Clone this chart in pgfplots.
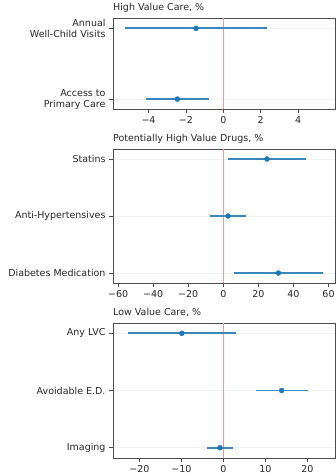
\documentclass[border=0pt]{standalone}
\usepackage{fontspec}
\setmainfont{DejaVu Sans}
\usepackage{pgfplots}
\pgfplotsset{compat=1.18}
\definecolor{tabblue}{RGB}{31,119,180}
\definecolor{refred}{RGB}{246,150,150}

\pgfplotsset{
  forest/.style={
    scale only axis, width=222bp,
    anchor=south west,
    axis line style={black!70, line width=0.6pt},
    tick style={black!70, line width=0.6pt},
    tick align=outside, major tick length=4bp,
    xtick pos=bottom, ytick pos=left,
    y dir=reverse, ytick={0,1,2},
    ymajorgrids, grid style={black!5, line width=0.8pt},
    font=\fontsize{9.5bp}{11bp}\selectfont,
    tick label style={text=black!85},
    yticklabel style={align=right},
    title style={at={(0,1)}, anchor=base west, inner xsep=0pt, yshift=2bp, text=black!85},
  },
  est/.style={color=tabblue, only marks, mark=*, mark size=2.5bp,
    mark options={fill=tabblue, draw=tabblue},
    error bars/.cd, x dir=both, x explicit, error mark=none,
    error bar style={line width=1.9bp, draw=tabblue!88!white}},
  refline/.style={draw=refred, line width=1.2bp, mark=none},
}

\begin{document}
\begin{tikzpicture}
\useasboundingbox (0,0) rectangle (336bp,474bp);

% High value care
\begin{axis}[forest, at={(113bp,365bp)}, height=90.5bp,
  title={High Value Care, \%},
  xmin=-5.9, xmax=5.97, ymin=-0.14, ymax=1.14,
  xtick={-4,-2,0,2,4}, xticklabels={−4,−2,0,2,4},
  ytick={0,1}, yticklabels={{Annual\\Well-Child Visits},{Access to\\Primary Care}}]
\addplot[refline] coordinates {(0,-0.14) (0,1.14)};
\addplot[est] coordinates {
  (-1.46,0) +- (3.78,0)
  (-2.46,1) +- (1.70,0)
};
\end{axis}

% Potentially high value drugs
\begin{axis}[forest, at={(113bp,191bp)}, height=134bp,
  title={Potentially High Value Drugs, \%},
  xmin=-62.9, xmax=63.7, ymin=-0.175, ymax=2.175,
  xtick={-60,-40,-20,0,20,40,60}, xticklabels={−60,−40,−20,0,20,40,60},
  yticklabels={Statins,Anti-Hypertensives,Diabetes Medication}]
\addplot[refline] coordinates {(0,-0.175) (0,2.175)};
\addplot[est] coordinates {
  (24.9,0) +- (22.5,0)
  (2.7,1) +- (10.25,0)
  (31.4,2) +- (25.4,0)
};
\end{axis}

% Low value care
\begin{axis}[forest, at={(113bp,16bp)}, height=135bp,
  title={Low Value Care, \%},
  xmin=-26.3, xmax=26.6, ymin=-0.18, ymax=2.18,
  xtick={-20,-10,0,10,20}, xticklabels={−20,−10,0,10,20},
  yticklabels={Any LVC,Avoidable E.D.,Imaging}]
\addplot[refline] coordinates {(0,-0.18) (0,2.18)};
\addplot[est] coordinates {
  (-9.9,0) +- (12.9,0)
  (13.9,1) +- (6.2,0)
  (-0.8,2) +- (3.1,0)
};
\end{axis}
\end{tikzpicture}
\end{document}
